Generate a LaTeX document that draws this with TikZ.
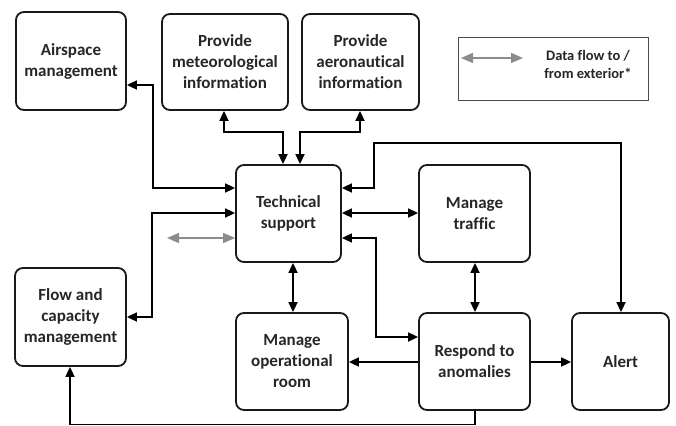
\documentclass[tikz,border=0pt]{standalone}
\usepackage{fontspec}
\setmainfont{Carlito}[Ligatures=NoCommon]
\usetikzlibrary{arrows.meta}
\begin{document}
\begin{tikzpicture}[x=1pt,y=-1pt,
  blk/.style={draw=black!90, line width=1.8pt, rounded corners=8pt, align=center,
    font=\fontsize{17}{21}\selectfont\bfseries, text=black!85, inner sep=0pt},
  con/.style={line width=1.7pt, black},
  tip/.style={-{Triangle[length=10pt,width=9pt]}},
  bi/.style={{Triangle[length=10pt,width=9pt]}-{Triangle[length=10pt,width=9pt]}},
  gbi/.style={line width=1.4pt, black!45, {Triangle[length=12pt,width=10pt]}-{Triangle[length=12pt,width=10pt]}}
]
\useasboundingbox (0,0) rectangle (676,425);

\node[blk, minimum width=110pt, minimum height=98pt] (air) at (71,61) {Airspace\\management};
\node[blk, minimum width=126pt, minimum height=96pt] (met) at (225,62) {Provide\\meteorological\\information};
\node[blk, minimum width=117pt, minimum height=96pt] (aer) at (360.5,62) {Provide\\aeronautical\\information};
\node[draw=black!70, line width=0.9pt, minimum width=190pt, minimum height=63pt] (leg) at (553,68.5) {};
\node[align=center, font=\fontsize{14.5}{18}\selectfont\bfseries, text=black!85] (legtext) at (588,64) {Data flow to /\\from exterior*};
\coordinate (la) at (461,58);
\coordinate (lb) at (523,58);
\draw[gbi] (la) -- (lb);

\node[blk, minimum width=105pt, minimum height=97pt] (ts) at (288.5,213.5) {Technical\\support};
\node[blk, minimum width=111pt, minimum height=97pt] (traf) at (474.5,213.5) {Manage\\traffic};
\node[blk, minimum width=111pt, minimum height=98pt] (flow) at (70.5,317) {Flow and\\capacity\\management};
\node[blk, minimum width=112pt, minimum height=97pt] (oproom) at (292,361.5) {Manage\\operational\\room};
\node[blk, minimum width=111pt, minimum height=97pt] (resp) at (474.5,361.5) {Respond to\\anomalies};
\node[blk, minimum width=97pt, minimum height=97pt] (alert) at (620.5,361.5) {Alert};

% connectors
\draw[con, bi] (air.east |- 0,85) -| (153,188) -- (ts.west |- 0,188);
\draw[con, bi] (met.south -| 224,0) -- (224,132) -| (ts.north -| 283,0);
\draw[con, bi] (aer.south -| 360,0) -- (360,132) -| (ts.north -| 300,0);
\draw[con, bi] (ts.east |- 0,188) -- (374,188) |- (621,143) -- (alert.north -| 621,0);
\draw[con, bi] (ts.east |- 0,213) -- (traf.west |- 0,213);
\draw[con, bi] (ts.east |- 0,238) -| (376,337) -- (resp.west |- 0,337);
\draw[con, bi] (traf.south -| 475,0) -- (resp.north -| 475,0);
\draw[con, tip] (resp.west |- 0,362) -- (oproom.east |- 0,362);
\draw[con, tip] (resp.east |- 0,362) -- (alert.west |- 0,362);
\draw[con, bi] (ts.south -| 293,0) -- (oproom.north -| 293,0);
\draw[con, bi] (ts.west |- 0,213) -| (152,317) -- (flow.east |- 0,317);
\coordinate (gs) at (167,238);
\draw[gbi] (gs) -- (ts.west |- 0,238);
\draw[con, tip] (resp.south -| 475,0) |- (70,424.5) -- (flow.south -| 70,0);
\end{tikzpicture}
\end{document}
